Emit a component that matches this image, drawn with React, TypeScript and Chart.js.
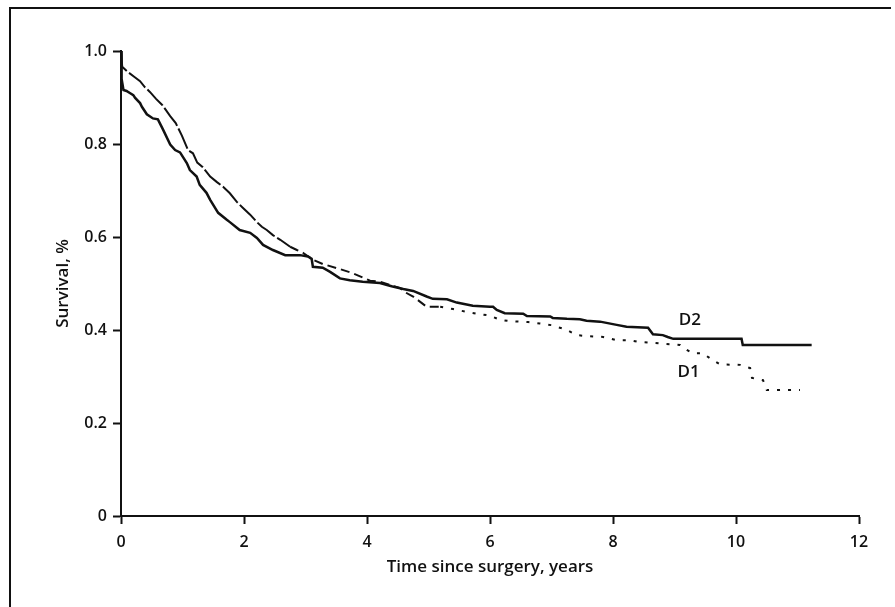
import React, { useEffect, useRef } from "react";
import { Chart, registerables } from "chart.js";

Chart.register(...registerables);

// ---- data ----
const xTickValues = [0, 2, 4, 6, 8, 10, 12];
const xTickLabels = ["0", "2", "4", "6", "8", "10", "12"];
const yTickValues = [0, 0.2, 0.4, 0.6, 0.8, 1.0];
const yTickLabels = ["0", "0.2", "0.4", "0.6", "0.8", "1.0"];

const xTitle = "Time since surgery, years";
const yTitle = "Survival, %";

const d2Time = [0, 0.01, 0.04, 0.09, 0.15, 0.2, 0.23, 0.31, 0.34, 0.42, 0.52, 0.6, 0.68, 0.8, 0.88, 0.96, 1.07, 1.12, 1.23, 1.28, 1.39, 1.45, 1.58, 1.72, 1.77, 1.93, 2.1, 2.21, 2.31, 2.47, 2.67, 2.91, 3.04, 3.1, 3.12, 3.28, 3.4, 3.56, 3.72, 3.93, 4.21, 4.4, 4.59, 4.75, 4.97, 5.07, 5.3, 5.46, 5.72, 6.0, 6.05, 6.11, 6.24, 6.54, 6.6, 6.98, 7.02, 7.25, 7.46, 7.57, 7.79, 8.06, 8.22, 8.57, 8.65, 8.81, 8.89, 8.98, 10.09, 10.11, 11.23];
const d2Surv = [1.0, 0.94, 0.916, 0.914, 0.909, 0.905, 0.899, 0.888, 0.88, 0.864, 0.855, 0.853, 0.832, 0.799, 0.787, 0.782, 0.759, 0.744, 0.73, 0.712, 0.695, 0.68, 0.652, 0.637, 0.632, 0.615, 0.609, 0.598, 0.583, 0.572, 0.561, 0.561, 0.558, 0.553, 0.536, 0.534, 0.525, 0.511, 0.507, 0.504, 0.501, 0.494, 0.488, 0.484, 0.472, 0.467, 0.466, 0.459, 0.452, 0.45, 0.45, 0.443, 0.436, 0.435, 0.43, 0.429, 0.426, 0.424, 0.423, 0.42, 0.418, 0.411, 0.407, 0.405, 0.391, 0.389, 0.385, 0.381, 0.381, 0.368, 0.368];

const d1Time = [0, 0.02, 0.11, 0.23, 0.31, 0.39, 0.47, 0.57, 0.67, 0.8, 0.89, 0.99, 1.09, 1.17, 1.24, 1.33, 1.45, 1.56, 1.66, 1.77, 1.88, 1.98, 2.1, 2.21, 2.29, 2.37, 2.47, 2.59, 2.75, 2.86, 2.96, 3.07, 3.12, 3.28, 3.56, 3.77, 4.05, 4.21, 4.37, 4.54, 4.65, 4.75, 4.97, 5.19, 5.4, 5.62, 5.84, 6.0, 6.16, 6.33, 6.62, 6.81, 7.02, 7.08, 7.19, 7.25, 7.41, 7.57, 7.84, 8.06, 8.28, 8.39, 8.6, 8.87, 9.09, 9.2, 9.3, 9.46, 9.6, 9.74, 10.07, 10.23, 10.26, 10.44, 10.5, 11.04];
const d1Surv = [1.0, 0.966, 0.955, 0.943, 0.935, 0.922, 0.912, 0.897, 0.884, 0.86, 0.845, 0.818, 0.787, 0.78, 0.76, 0.75, 0.73, 0.718, 0.708, 0.694, 0.676, 0.663, 0.648, 0.632, 0.622, 0.615, 0.604, 0.594, 0.579, 0.572, 0.566, 0.556, 0.551, 0.542, 0.531, 0.522, 0.506, 0.504, 0.497, 0.49, 0.479, 0.472, 0.45, 0.45, 0.445, 0.439, 0.434, 0.431, 0.422, 0.419, 0.417, 0.414, 0.41, 0.407, 0.403, 0.4, 0.389, 0.387, 0.385, 0.378, 0.378, 0.375, 0.373, 0.37, 0.368, 0.357, 0.35, 0.35, 0.337, 0.326, 0.325, 0.318, 0.297, 0.292, 0.271, 0.271];

const seriesNames = ["D2", "D1"];
// curve labels anchored in data coordinates
const labelTime = [9.25, 9.23];
const labelSurv = [0.421, 0.31];

const FONT = "'Open Sans', 'Liberation Sans', sans-serif";

const curveLabelPlugin = {
  id: "curveLabels",
  afterDatasetsDraw(chart: any) {
    const { ctx, scales } = chart;
    ctx.save();
    ctx.fillStyle = "#111";
    ctx.font = `600 17px ${FONT}`;
    ctx.textAlign = "center";
    ctx.textBaseline = "middle";
    seriesNames.forEach((name, i) => {
      ctx.fillText(name, scales.x.getPixelForValue(labelTime[i]), scales.y.getPixelForValue(labelSurv[i]));
    });
    ctx.restore();
  },
};

export default function App() {
  const ref = useRef<HTMLCanvasElement>(null);
  useEffect(() => {
    if (!ref.current) return;
    const d2 = d2Time.map((t, i) => ({ x: t, y: d2Surv[i] }));
    const d1 = d1Time.map((t, i) => ({ x: t, y: d1Surv[i] }));
    const chart = new Chart(ref.current, {
      type: "line",
      data: {
        datasets: [
          {
            label: seriesNames[0],
            data: d2,
            borderColor: "#111",
            borderWidth: 2.5,
            pointRadius: 0,
            tension: 0,
            fill: false,
          },
          {
            label: seriesNames[1],
            data: d1,
            borderColor: "#111",
            borderWidth: 2,
            pointRadius: 0,
            tension: 0,
            fill: false,
            segment: {
              borderDash: (c: any) => {
                const x = c.p0.parsed.x;
                if (x < 2.6) return [22, 3];
                if (x < 5) return [9, 5];
                return [3, 8];
              },
            },
          },
        ],
      },
      options: {
        responsive: false,
        animation: false,
        devicePixelRatio: 1,
        layout: { padding: { top: 51, right: 36, bottom: 0, left: 0 } },
        plugins: { legend: { display: false }, tooltip: { enabled: false } },
        scales: {
          x: {
            type: "linear",
            min: 0,
            max: 12,
            afterFit: (s: any) => {
              s.height = 91;
            },
            afterBuildTicks: (s: any) => {
              s.ticks = xTickValues.map((v) => ({ value: v }));
            },
            ticks: {
              callback: (_v: any, i: number) => xTickLabels[i],
              color: "#111",
              font: { family: FONT, size: 16, weight: "600" },
              padding: 9,
              maxRotation: 0,
            },
            grid: { drawOnChartArea: false, drawTicks: true, tickLength: 8, tickWidth: 2, tickColor: "#111" },
            border: { display: true, color: "#111", width: 2 },
            title: {
              display: true,
              text: xTitle,
              color: "#111",
              font: { family: FONT, size: 17, weight: "600" },
              padding: { top: 0, bottom: 30 },
            },
          },
          y: {
            type: "linear",
            min: 0,
            max: 1,
            afterFit: (s: any) => {
              s.width = 121;
            },
            afterBuildTicks: (s: any) => {
              s.ticks = yTickValues.map((v) => ({ value: v }));
            },
            ticks: {
              callback: (_v: any, i: number) => yTickLabels[i],
              color: "#111",
              font: { family: FONT, size: 16, weight: "600" },
              padding: 6,
            },
            grid: { drawOnChartArea: false, drawTicks: true, tickLength: 8, tickWidth: 2, tickColor: "#111" },
            border: { display: true, color: "#111", width: 2 },
            title: {
              display: true,
              text: yTitle,
              color: "#111",
              font: { family: FONT, size: 17, weight: "600" },
              padding: { top: 53, bottom: 0 },
            },
          },
        },
      },
      plugins: [curveLabelPlugin],
    });
    return () => chart.destroy();
  }, []);

  return (
    <div style={{ position: "fixed", left: 0, top: 0, width: 895, height: 607, background: "#fff", overflow: "hidden" }}>
      <div style={{ position: "absolute", left: 9, top: 7, width: 882, height: 2, background: "#111" }} />
      <div style={{ position: "absolute", left: 9, top: 7, width: 2, height: 600, background: "#111" }} />
      <canvas ref={ref} width={895} height={607} style={{ position: "absolute", left: 0, top: 0, width: 895, height: 607 }} />
    </div>
  );
}
